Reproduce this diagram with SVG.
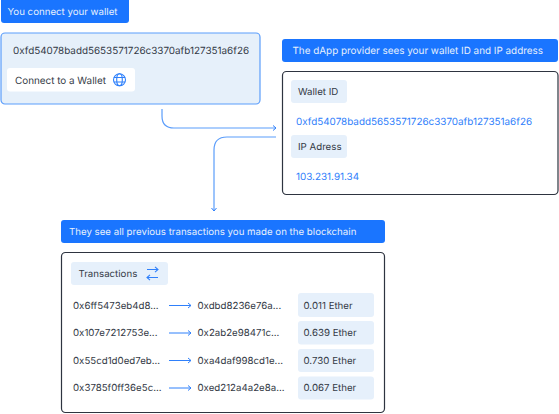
<svg xmlns="http://www.w3.org/2000/svg" width="559" height="414" viewBox="0 0 559 414">
<defs>
<marker id="ah" markerUnits="userSpaceOnUse" markerWidth="6" markerHeight="8" refX="5" refY="4" orient="auto"><path d="M2 1.500L5 4L2 6.500" fill="none" stroke="#2f80fb" stroke-width="1"/></marker>
</defs>
<style>
text{font-family:Inter,"Liberation Sans",sans-serif;font-size:9.7px;fill:#343a46;text-rendering:geometricPrecision}
.a{font-size:9.9px}
.h{fill:#1a75ff}
.ht{fill:#e6f0fc}
.b{fill:#2f80fb}
.chip{fill:#e6f0fb}
.panel{fill:#fff;stroke:#2e3440;stroke-width:1.2}
.c{fill:none;stroke:#5b9dfb;stroke-width:1.2}
.r{fill:none;stroke:#2f80fb;stroke-width:1}
</style>
<rect width="559" height="414" fill="#fff"/>
<g id="header-wallet">
<rect class="h" x="1" y="-4" width="128" height="27" rx="3"/>
<text class="ht" x="7.500" y="15">You connect your wallet</text>
</g>
<g id="node-wallet">
<rect x="1" y="33" width="259" height="71" rx="4" fill="#e6f0fa" stroke="#5b9dfb" stroke-width="1.200"/>
<text class="a" x="13" y="54">0xfd54078badd5653571726c3370afb127351a6f26</text>
<rect x="7" y="68" width="128" height="23.500" rx="3" fill="#fff"/>
<text class="a" x="15" y="83.500">Connect to a Wallet</text>
<g fill="none" stroke="#2f80fb" stroke-width="1.100">
<circle cx="119.500" cy="79.800" r="6"/>
<ellipse cx="119.500" cy="79.800" rx="2.800" ry="6"/>
<path d="M113.800 77.500H125.200M113.800 82H125.200"/>
</g>
</g>
<g id="header-dapp">
<rect class="h" x="282" y="39" width="276" height="23" rx="3"/>
<text class="ht a" x="292.500" y="54">The dApp provider sees your wallet ID and IP address</text>
</g>
<g id="node-provider">
<rect class="panel" x="282.500" y="71.500" width="275.500" height="123" rx="4"/>
<rect class="chip" x="291" y="80" width="56" height="23" rx="3"/>
<text x="298" y="95">Wallet ID</text>
<text class="b a" x="296" y="125">0xfd54078badd5653571726c3370afb127351a6f26</text>
<rect class="chip" x="291" y="135" width="56" height="23" rx="3"/>
<text x="298" y="150">IP Adress</text>
<text class="b a" x="296" y="180">103.231.91.34</text>
</g>
<g id="header-transactions">
<rect class="h" x="61" y="220" width="324" height="23" rx="3"/>
<text class="ht" x="69" y="235">They see all previous transactions you made on the blockchain</text>
</g>
<g id="node-transactions">
<rect class="panel" x="61.500" y="252.500" width="323" height="160" rx="4"/>
<rect class="chip" x="71" y="262" width="97" height="23" rx="3"/>
<text x="78.500" y="277">Transactions</text>
<g fill="none" stroke="#2f80fb" stroke-width="1.100">
<path d="M147 269.500H158M155 266.800L158 269.500L155 272.200"/>
<path d="M158 277.500H147M150 274.800L147 277.500L150 280.200"/>
</g>
<text x="73" y="308.500">0x6ff5473eb4d8...</text>
<text x="197.500" y="308.500">0xdbd8236e76a...</text>
<rect class="chip" x="298" y="293" width="76" height="24" rx="3"/>
<text x="303.500" y="308.500">0.011 Ether</text>
<text x="73" y="336">0x107e7212753e...</text>
<text x="197.500" y="336">0x2ab2e98471c...</text>
<rect class="chip" x="298" y="321" width="76" height="23.500" rx="3"/>
<text x="303.500" y="336">0.639 Ether</text>
<text x="73" y="363.500">0x55cd1d0ed7eb...</text>
<text x="197.500" y="363.500">0xa4daf998cd1e...</text>
<rect class="chip" x="298" y="349" width="76" height="23" rx="3"/>
<text x="303.500" y="363.500">0.730 Ether</text>
<text x="73" y="391">0x3785f0ff36e5c...</text>
<text x="197.500" y="391">0xed212a4a2e8a...</text>
<rect class="chip" x="298" y="376.500" width="76" height="23" rx="3"/>
<text x="303.500" y="391">0.067 Ether</text>
</g>
<g id="connectors">
<path class="c" d="M162 109V116Q162 128 174 128H276" marker-end="url(#ah)"/>
<path class="c" d="M276 137H227Q214 137 214 150V211" marker-end="url(#ah)"/>
<path class="r" d="M169 305.500H191" marker-end="url(#ah)"/>
<path class="r" d="M169 333H191" marker-end="url(#ah)"/>
<path class="r" d="M169 360.500H191" marker-end="url(#ah)"/>
<path class="r" d="M169 388H191" marker-end="url(#ah)"/>
</g>
</svg>
